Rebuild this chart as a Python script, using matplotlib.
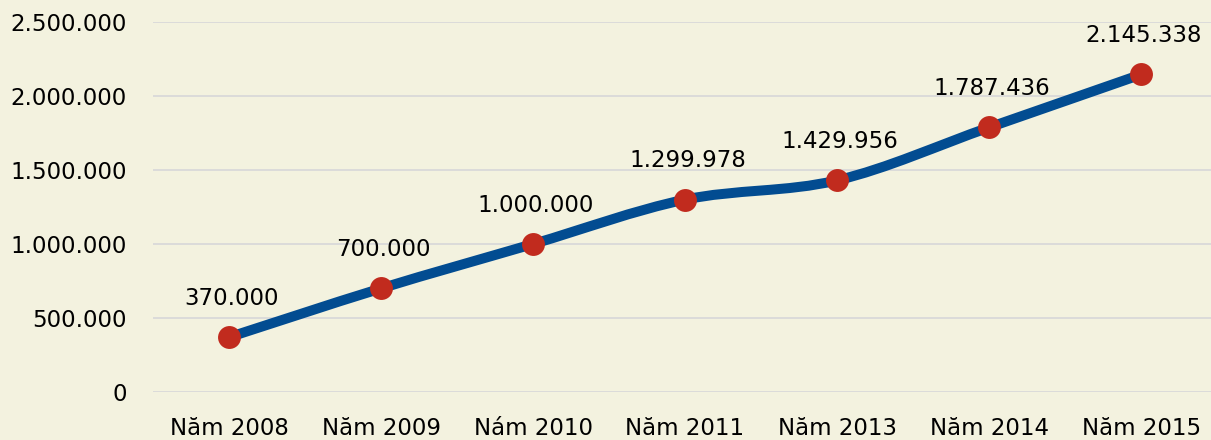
import numpy as np
import matplotlib
matplotlib.use("Agg")
import matplotlib.pyplot as plt
from matplotlib.path import Path
from matplotlib.patches import PathPatch
from matplotlib.ticker import FuncFormatter

years = ['Năm 2008', 'Năm 2009', 'Nám 2010', 'Năm 2011', 'Năm 2013', 'Năm 2014', 'Năm 2015']
values = [370000, 700000, 1000000, 1299978, 1429956, 1787436, 2145338]
labels = ['370.000', '700.000', '1.000.000', '1.299.978', '1.429.956', '1.787.436', '2.145.338']

bg = '#F3F2DF'
line_col = '#024C91'
dot_col = '#C12B1E'

plt.rcParams['font.family'] = ['DejaVu Sans']
fig = plt.figure(figsize=(12.11, 4.4), dpi=100, facecolor=bg)
ax = fig.add_axes([153 / 1211, 48 / 440, 1 - 153 / 1211, 370 / 440])
ax.set_facecolor(bg)

x = np.arange(len(values))
y = np.array(values, dtype=float)

# smoothed line (catmull-rom as bezier segments)
px = np.concatenate([[x[0]], x, [x[-1]]])
py = np.concatenate([[y[0]], y, [y[-1]]])
verts = [(x[0], y[0])]
codes = [Path.MOVETO]
for i in range(1, len(px) - 2):
    c1 = (px[i] + (px[i + 1] - px[i - 1]) / 6, py[i] + (py[i + 1] - py[i - 1]) / 6)
    c2 = (px[i + 1] - (px[i + 2] - px[i]) / 6, py[i + 1] - (py[i + 2] - py[i]) / 6)
    verts += [c1, c2, (px[i + 1], py[i + 1])]
    codes += [Path.CURVE4] * 3
ax.add_patch(PathPatch(Path(verts, codes), facecolor='none', edgecolor=line_col,
                       lw=7.2, capstyle='round', joinstyle='round', zorder=3))
ax.plot(x, y, 'o', color=dot_col, markersize=16.5, markeredgewidth=0, zorder=4)

for xi, yi, lab in zip(x, y, labels):
    ax.annotate(lab, (xi, yi), xytext=(2, 28), textcoords='offset points',
                ha='center', va='center', fontsize=16.5, color='black', zorder=5)

ax.set_xlim(-0.5, 6.46)
ax.set_ylim(0, 2500000)
ax.set_yticks(np.arange(0, 2500001, 500000))
ax.yaxis.set_major_formatter(FuncFormatter(lambda v, p: f'{int(v):,}'.replace(',', '.')))
ax.set_xticks(x)
ax.set_xticklabels(years)
ax.tick_params(axis='both', length=0, labelsize=16.5, colors='black')
ax.tick_params(axis='y', pad=19)
ax.tick_params(axis='x', pad=18)
ax.grid(axis='y', color='#D9D9D9', lw=1.3)
ax.set_axisbelow(True)
for s in ax.spines.values():
    s.set_visible(False)

fig.savefig('out.png', dpi=100, facecolor=bg)
